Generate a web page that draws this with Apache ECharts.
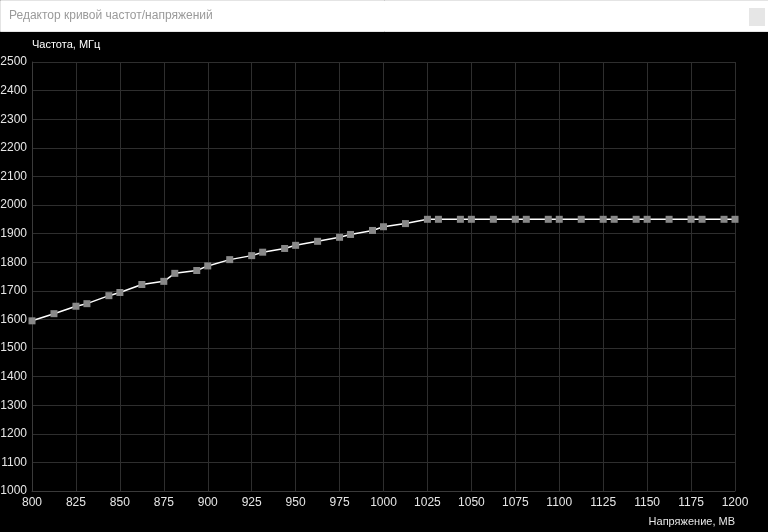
<!DOCTYPE html>
<html>
<head>
<meta charset="utf-8">
<script src="https://cdn.jsdelivr.net/npm/echarts@6/dist/echarts.min.js"></script>
<style>
html,body{margin:0;padding:0;background:#000;}
#chart{width:768px;height:532px;}
</style>
</head>
<body>
<div id="chart"></div>
<script>
// Voltage points (mV)
const voltages = [800, 812.5, 825, 831.25, 843.75, 850, 862.5, 875, 881.25, 893.75, 900, 912.5, 925, 931.25, 943.75, 950, 962.5, 975, 981.25, 993.75, 1000, 1012.5, 1025, 1031.25, 1043.75, 1050, 1062.5, 1075, 1081.25, 1093.75, 1100, 1112.5, 1125, 1131.25, 1143.75, 1150, 1162.5, 1175, 1181.25, 1193.75, 1200];
// Frequency values (MHz)
const frequencies = [1595, 1620, 1646, 1655, 1683, 1694, 1722, 1733, 1761, 1771, 1787, 1809, 1823, 1835, 1848, 1859, 1873, 1887, 1897, 1911, 1924, 1935, 1950, 1950, 1950, 1950, 1950, 1950, 1950, 1950, 1950, 1950, 1950, 1950, 1950, 1950, 1950, 1950, 1950, 1950, 1950];
const titleText = 'Редактор кривой частот/напряжений';
const yAxisName = 'Частота, МГц';
const xAxisName = 'Напряжение, МВ';

const chart = echarts.init(document.getElementById('chart'));
const font = '"Liberation Sans", Arial, sans-serif';
chart.setOption({
  backgroundColor: '#000',
  animation: false,
  grid: {left: 32, right: 33, top: 62, bottom: 41, containLabel: false, outerBoundsMode: 'none'},
  xAxis: {
    type: 'value', min: 800, max: 1200, interval: 25,
    axisLine: {show: true, lineStyle: {color: '#3a3a3a', width: 1}},
    axisTick: {show: false},
    splitLine: {show: true, lineStyle: {color: '#2e2e2e', width: 1}},
    axisLabel: {color: '#e6e6e6', fontSize: 12, fontFamily: font, margin: 6, formatter: v => String(v)}
  },
  yAxis: {
    type: 'value', min: 1000, max: 2500, interval: 100,
    axisLine: {show: true, lineStyle: {color: '#3a3a3a', width: 1}},
    axisTick: {show: false},
    splitLine: {show: true, lineStyle: {color: '#2e2e2e', width: 1}},
    axisLabel: {color: '#e6e6e6', fontSize: 12, fontFamily: font, margin: 5, formatter: v => String(v)}
  },
  series: [{
    type: 'line',
    data: voltages.map((v, i) => [v, frequencies[i]]),
    symbol: 'rect',
    symbolSize: 7,
    showAllSymbol: true,
    lineStyle: {color: '#ffffff', width: 1.5},
    itemStyle: {color: '#888888'},
    z: 3
  }],
  graphic: [
    {type: 'rect', left: 0, top: 0, shape: {width: 768, height: 31}, style: {fill: '#ffffff', stroke: '#e4e4e4', lineWidth: 1}},
    {type: 'text', left: 9, top: 10, style: {text: titleText, fill: '#9a9a9a', font: '12px ' + font}},
    {type: 'rect', left: 749, top: 8, shape: {width: 16, height: 18}, style: {fill: '#e6e6e6'}},
    {type: 'text', left: 32, top: 39, style: {text: yAxisName, fill: '#ffffff', font: '11px ' + font}},
    {type: 'text', right: 33, top: 516, style: {text: xAxisName, fill: '#e6e6e6', font: '11px ' + font}}
  ]
});
</script>
</body>
</html>
